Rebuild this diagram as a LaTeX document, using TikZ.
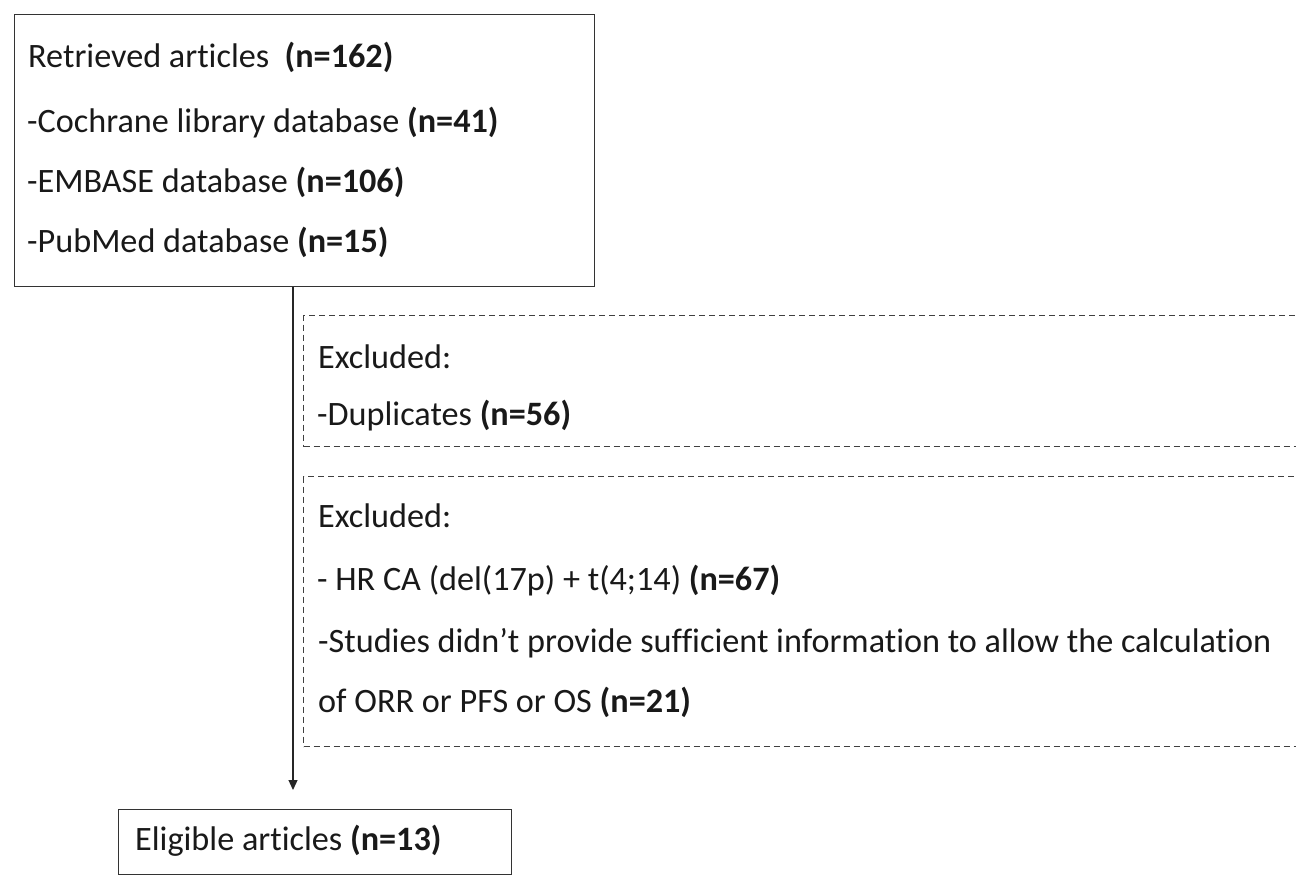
\documentclass[tikz,border=0pt]{standalone}
\usepackage{fontspec}
\setmainfont[Ligatures={NoCommon}]{Carlito}
\usetikzlibrary{arrows.meta}
\begin{document}
\begin{tikzpicture}[x=1pt,y=-1pt,
  solidbox/.style={draw=black!80,line width=1.4pt,inner sep=0pt,anchor=north west},
  dashbox/.style={draw=black!75,line width=1.4pt,dash pattern=on 6pt off 4pt,inner sep=0pt,anchor=north west},
  txt/.style={anchor=base west,inner sep=0pt,font=\fontsize{34.2}{40}\selectfont,text=black!90},
  arr/.style={draw=black!85,line width=1.2pt,-{Triangle[length=10pt,width=9pt]}}]
\clip (0,0) rectangle (1296,878);
\fill[white] (0,0) rectangle (1296,878);
% boxes
\node[solidbox,minimum width=580pt,minimum height=272pt] (box1) at (14,14) {};
\node[dashbox,minimum width=1020pt,minimum height=131pt] (ex1) at (303,315) {};
\node[dashbox,minimum width=1020pt,minimum height=270pt] (ex2) at (303,476) {};
\node[solidbox,minimum width=393pt,minimum height=65pt] (elig) at (118,809) {};
% texts
\node[txt] (t1) at (28,67) {Retrieved articles\ \ \textbf{(n=162)}};
\node[txt] (t2) at (27,132) {-Cochrane library database \textbf{(n=41)}};
\node[txt] (t3) at (27,192) {-EMBASE database \textbf{(n=106)}};
\node[txt] (t4) at (27,252) {-PubMed database \textbf{(n=15)}};
\node[txt] (e1) at (318,368) {Excluded:};
\node[txt] (e2) at (317,425) {-Duplicates \textbf{(n=56)}};
\node[txt] (f1) at (318,527) {Excluded:};
\node[txt] (f2) at (317,590) {- HR CA (del(17p) + t(4;14) \textbf{(n=67)}};
\node[txt] (f3) at (318,652) {-Studies didn’t provide sufficient information to allow the calculation};
\node[txt] (f4) at (318,712) {of ORR or PFS or OS \textbf{(n=21)}};
\node[txt] (g1) at (135,850) {Eligible articles \textbf{(n=13)}};
% connector
\coordinate (tip) at (293,790);
\draw[arr] (box1.south -| tip) -- (tip);
\end{tikzpicture}
\end{document}
